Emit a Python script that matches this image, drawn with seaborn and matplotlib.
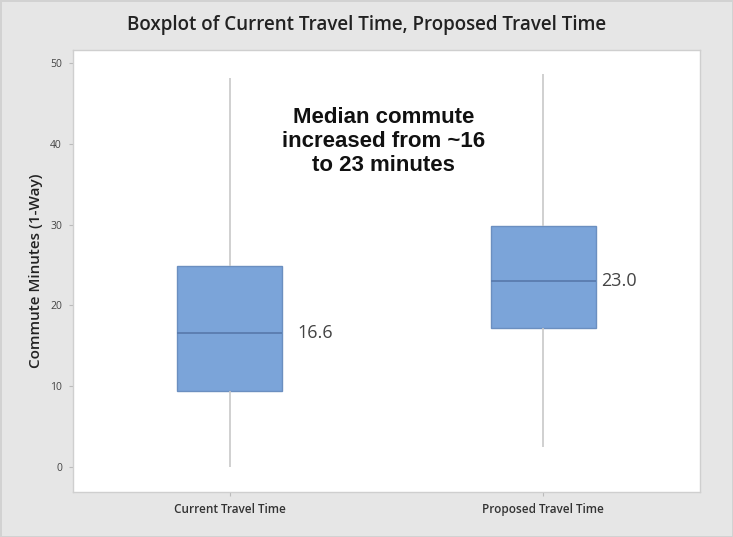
import numpy as np
import pandas as pd
import seaborn as sns
import matplotlib.pyplot as plt

# Five-number summaries (min, Q1, median, Q3, max)
groups = ["Current Travel Time", "Proposed Travel Time"]
current = [0.0, 9.4, 16.6, 24.9, 48.1]
proposed = [2.5, 17.2, 23.0, 29.8, 48.6]
medians = [16.6, 23.0]
y_ticks = [0, 10, 20, 30, 40, 50]

df = pd.DataFrame({
    "group": [groups[0]] * len(current) + [groups[1]] * len(proposed),
    "minutes": current + proposed,
})

sns.set_theme(style="white")
plt.rcParams["font.family"] = ["Open Sans", "DejaVu Sans"]

fig = plt.figure(figsize=(7.33, 5.37), dpi=100, facecolor="#e6e6e6",
                 edgecolor="#d2d2d2", linewidth=2)
ax = fig.add_axes([73 / 733, 1 - 492 / 537, 627 / 733, 442 / 537])
ax.set_facecolor("white")

# whis=(0, 100) so whiskers go to min and max
sns.boxplot(data=df, x="group", y="minutes", ax=ax, width=0.335,
            whis=(0, 100), color="#7BA4D9", saturation=1, linewidth=1,
            boxprops=dict(facecolor="#7BA4D9", edgecolor="#6b8fc0"),
            medianprops=dict(color="#5a7cae", linewidth=1.3),
            whiskerprops=dict(color="#c8c8c8", linewidth=1.2),
            capprops=dict(linewidth=0), showfliers=False)

ax.set_xlim(-0.5, 1.5)
ax.set_ylim(-3.1, 51.6)
ax.set_yticks(y_ticks)
ax.set_yticklabels([str(t) for t in y_ticks], fontsize=7.5, color="#444444")
ax.set_xticks(range(len(groups)))
ax.set_xticklabels(groups, fontsize=8.5, color="#333333", fontweight="semibold")
ax.tick_params(axis="both", direction="out", length=3, width=0.8,
               color="#bbbbbb", left=True, bottom=True, pad=5)
ax.set_xlabel("")
ax.set_ylabel("Commute Minutes (1-Way)", fontsize=11, color="#222222",
              fontweight="semibold", labelpad=5)

for s in ax.spines.values():
    s.set_color("#cfcfcf")
    s.set_linewidth(1)

# median value labels
offsets = [0.215, 0.185]
for i, m in enumerate(medians):
    ax.text(i + offsets[i], m, f"{m:.1f}", fontsize=13, color="#444444",
            va="center", ha="left")

ax.text(0.49, 40.3, "Median commute\nincreased from ~16\nto 23 minutes",
        ha="center", va="center", fontsize=16, fontweight="bold",
        family="Liberation Sans", color="#111111", linespacing=1.2)

fig.text(0.5, 1 - 25 / 537, "Boxplot of Current Travel Time, Proposed Travel Time",
         ha="center", va="center", fontsize=13.5, fontweight="semibold",
         color="#222222")

fig.savefig("out.png", dpi=100, facecolor=fig.get_facecolor(),
            edgecolor=fig.get_edgecolor())
